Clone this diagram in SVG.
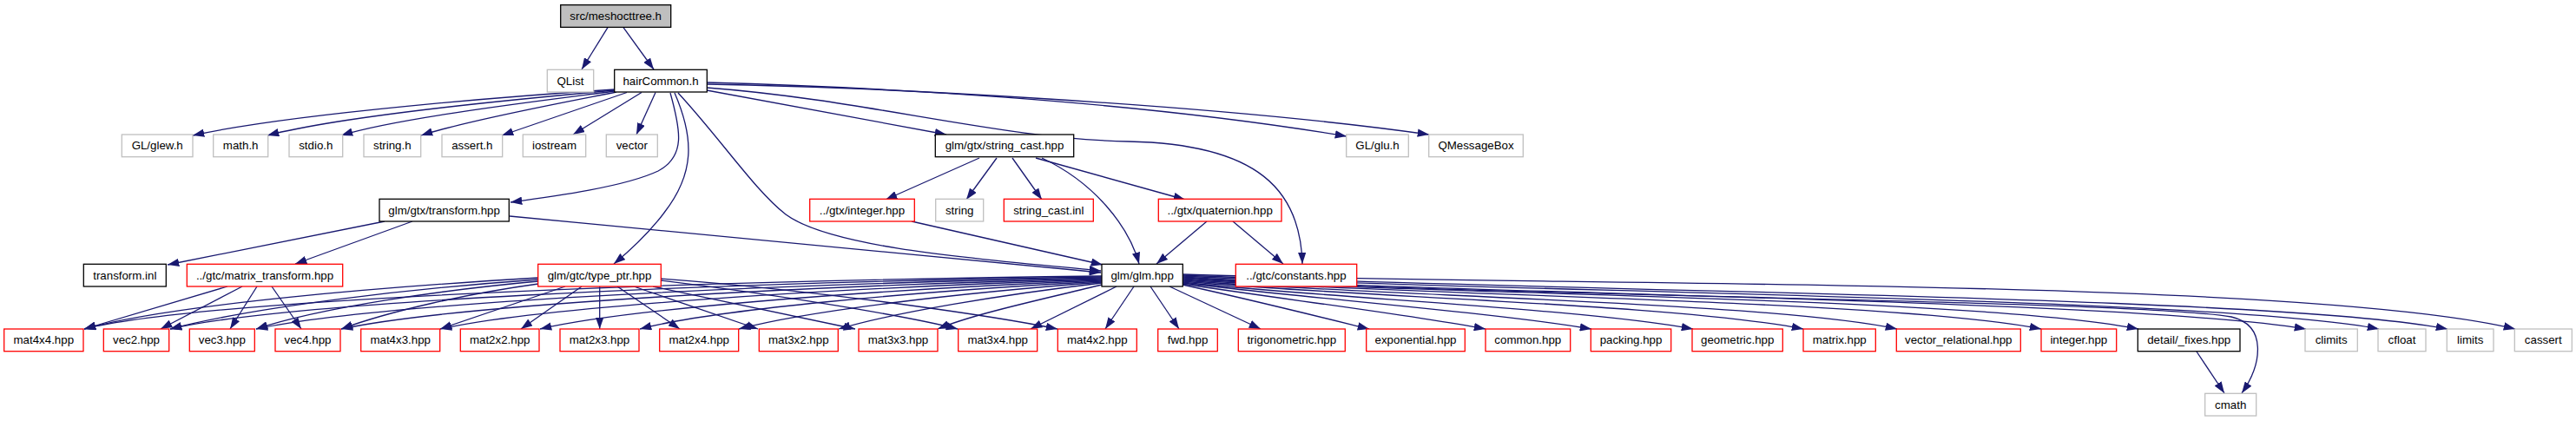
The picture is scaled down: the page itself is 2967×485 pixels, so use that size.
<svg xmlns="http://www.w3.org/2000/svg" width="2967" height="485" viewBox="0 0 2967 485">
<style>
.n rect{fill:#fff;stroke-width:1.3}
.g rect{stroke:#bfbfbf}
.b rect{stroke:#000}
.r rect{stroke:#ff0000}
.root rect{fill:#bfbfbf;stroke:#000}
text{font-family:"Liberation Sans",Arial,sans-serif;font-size:13.3px;text-anchor:middle;fill:#000}
#edges path{fill:none;stroke:#191970;stroke-width:1.3;marker-end:url(#a)}
</style>
<defs>
<marker id="a" markerUnits="userSpaceOnUse" viewBox="0 0 13.3 9.4" refX="13.3" refY="4.7" markerWidth="13.3" markerHeight="9.4" orient="auto">
<path d="M0,0 L13.3,4.7 L0,9.4 z" fill="#191970"/>
</marker>
</defs>
<rect width="2967" height="485" fill="#fff"/>
<g id="edges">
<path d="M700,31.7 L670,80"/>
<path d="M718,31.7 L753,80"/>
<path d="M708,103 C 600,110 340,130 222,156"/>
<path d="M708,104 C 620,112 400,132 308,156"/>
<path d="M708,105 C 640,114 460,135 393,156"/>
<path d="M710,106 C 660,116 540,138 485,156"/>
<path d="M722,106.5 L578,156"/>
<path d="M739,106.5 L660,155"/>
<path d="M755,106.5 L733,155"/>
<path d="M772,107 C 784,150 790,180 758,197 C 720,215 640,226 588,233"/>
<path d="M777,107 C 800,160 800,200 765,245 C 750,265 730,285 707,304"/>
<path d="M781,107 C 830,160 870,220 905,247 C 960,288 1150,300 1268,312"/>
<path d="M814,104 L1090,155"/>
<path d="M814,101 C 1000,115 1150,160 1300,163 C 1450,166 1498,220 1500,304"/>
<path d="M814,95 C 1000,100 1300,115 1551,157"/>
<path d="M814,97 C 1000,100 1400,120 1646,155"/>
<path d="M443,255 L193,305"/>
<path d="M475,255 L340,304"/>
<path d="M587,249 L1268,314"/>
<path d="M1128,182 L1020,230"/>
<path d="M1148,182 L1113,230"/>
<path d="M1166,182 L1200,230"/>
<path d="M1193,182 L1365,230"/>
<path d="M1200,182 C 1260,210 1300,260 1312,304"/>
<path d="M1050,255 L1270,305"/>
<path d="M1390,255 L1332,304"/>
<path d="M1420,255 L1478,304"/>
<path d="M262,330 L97,379"/>
<path d="M279,330 L185,379"/>
<path d="M296,330 L265,379"/>
<path d="M313,330 L347,379"/>
<path d="M620,320 C 450,330 200,350 97,379"/>
<path d="M620,322 C 480,332 300,352 196,379"/>
<path d="M620,324 C 510,334 370,354 295,379"/>
<path d="M620,327 C 540,338 450,358 393,379"/>
<path d="M651,330 L507,379"/>
<path d="M670,330 L600,379"/>
<path d="M690.7,330 L690.7,379"/>
<path d="M711,330 L783,379"/>
<path d="M730,330 L873,379"/>
<path d="M752,330 L985,379"/>
<path d="M761,323 C 900,340 1050,365 1103,379"/>
<path d="M761,321 C 950,335 1150,365 1218,379"/>
<path d="M1269,328 C 1200,345 1120,362 1080,379"/>
<path d="M1269,326 C 1150,340 1030,360 966,379"/>
<path d="M1269,325 C 1100,338 930,358 851,379"/>
<path d="M1269,324 C 1050,336 820,357 737,379"/>
<path d="M1269,323 C 1000,334 720,356 622,379"/>
<path d="M1269,322 C 950,332 620,354 507,379"/>
<path d="M1269,321 C 900,330 520,352 393,379"/>
<path d="M1269,320 C 850,328 430,350 295,379"/>
<path d="M1269,319 C 800,326 330,348 196,379"/>
<path d="M1269,318 C 750,324 230,346 97,379"/>
<path d="M1286,330 L1187,379"/>
<path d="M1306,330 L1273,379"/>
<path d="M1325,330 L1358,379"/>
<path d="M1347,330 L1452,379"/>
<path d="M1362,328 C 1440,345 1520,365 1577,379"/>
<path d="M1362,327 C 1480,345 1620,362 1711,379"/>
<path d="M1362,326 C 1500,343 1720,360 1833,379"/>
<path d="M1362,325 C 1520,343 1820,355 1950,379"/>
<path d="M1362,324 C 1550,342 1930,350 2077,379"/>
<path d="M1362,323 C 1580,341 2040,348 2185,379"/>
<path d="M1362,322 C 1600,340 2180,345 2351,379"/>
<path d="M1362,321 C 1620,339 2280,342 2463,379"/>
<path d="M1362,319 C 1650,338 2450,345 2656,379"/>
<path d="M1362,318 C 1700,336 2550,342 2740,379"/>
<path d="M1362,317 C 1750,335 2620,340 2819,379"/>
<path d="M1362,316 C 1800,330 2650,320 2897,379"/>
<path d="M1362,320 C 1700,342 2450,345 2570,365 C 2612,375 2605,420 2582,453"/>
<path d="M2530,405 L2562,453"/>
</g>
<g id="n_root" class="n root"><rect x="645.7" y="5.7" width="127" height="25.7"/><text x="709.2" y="23">src/meshocttree.h</text></g>
<g id="n_qlist" class="n g"><rect x="630.3" y="80.3" width="53.4" height="25.7"/><text x="657" y="97.6">QList</text></g>
<g id="n_haircommon" class="n b"><rect x="707.7" y="80.3" width="106.6" height="25.7"/><text x="761" y="97.6">hairCommon.h</text></g>
<g id="n_glew" class="n g"><rect x="140.3" y="155" width="81.7" height="25.7"/><text x="181.2" y="172.3">GL/glew.h</text></g>
<g id="n_math" class="n g"><rect x="245.7" y="155" width="63" height="25.7"/><text x="277.2" y="172.3">math.h</text></g>
<g id="n_stdio" class="n g"><rect x="333" y="155" width="61.7" height="25.7"/><text x="363.8" y="172.3">stdio.h</text></g>
<g id="n_string_h" class="n g"><rect x="419" y="155" width="65.7" height="25.7"/><text x="451.8" y="172.3">string.h</text></g>
<g id="n_assert" class="n g"><rect x="509" y="155" width="69.7" height="25.7"/><text x="543.8" y="172.3">assert.h</text></g>
<g id="n_iostream" class="n g"><rect x="602.3" y="155" width="72.4" height="25.7"/><text x="638.5" y="172.3">iostream</text></g>
<g id="n_vector" class="n g"><rect x="698.3" y="155" width="59" height="25.7"/><text x="727.8" y="172.3">vector</text></g>
<g id="n_string_cast" class="n b"><rect x="1077.3" y="155" width="159.4" height="25.7"/><text x="1157" y="172.3">glm/gtx/string_cast.hpp</text></g>
<g id="n_glu" class="n g"><rect x="1550.7" y="155" width="71.6" height="25.7"/><text x="1586.5" y="172.3">GL/glu.h</text></g>
<g id="n_qmessagebox" class="n g"><rect x="1645.7" y="155" width="108.6" height="25.7"/><text x="1700" y="172.3">QMessageBox</text></g>
<g id="n_transform" class="n b"><rect x="437" y="229.3" width="149.3" height="25.7"/><text x="511.6" y="246.6">glm/gtx/transform.hpp</text></g>
<g id="n_gtx_integer" class="n r"><rect x="932.7" y="229.3" width="120.6" height="25.7"/><text x="993" y="246.6">../gtx/integer.hpp</text></g>
<g id="n_string" class="n g"><rect x="1077.7" y="229.3" width="55" height="25.7"/><text x="1105.2" y="246.6">string</text></g>
<g id="n_string_cast_inl" class="n r"><rect x="1156.3" y="229.3" width="103" height="25.7"/><text x="1207.8" y="246.6">string_cast.inl</text></g>
<g id="n_quaternion" class="n r"><rect x="1334.3" y="229.3" width="141.7" height="25.7"/><text x="1405.2" y="246.6">../gtx/quaternion.hpp</text></g>
<g id="n_transform_inl" class="n b"><rect x="96.3" y="304.3" width="95" height="25.7"/><text x="143.8" y="321.6">transform.inl</text></g>
<g id="n_matrix_transform" class="n r"><rect x="215.3" y="304.3" width="179.4" height="25.7"/><text x="305" y="321.6">../gtc/matrix_transform.hpp</text></g>
<g id="n_type_ptr" class="n r"><rect x="619.7" y="304.3" width="141.6" height="25.7"/><text x="690.5" y="321.6">glm/gtc/type_ptr.hpp</text></g>
<g id="n_glm" class="n b"><rect x="1269" y="304.3" width="93.3" height="25.7"/><text x="1315.7" y="321.6">glm/glm.hpp</text></g>
<g id="n_constants" class="n r"><rect x="1423.3" y="304.3" width="139.4" height="25.7"/><text x="1493" y="321.6">../gtc/constants.hpp</text></g>
<g id="n_mat4x4" class="n r"><rect x="4.7" y="379" width="91.3" height="25.7"/><text x="50.3" y="396.3">mat4x4.hpp</text></g>
<g id="n_vec2" class="n r"><rect x="119.3" y="379" width="75.4" height="25.7"/><text x="157" y="396.3">vec2.hpp</text></g>
<g id="n_vec3" class="n r"><rect x="218.3" y="379" width="75" height="25.7"/><text x="255.8" y="396.3">vec3.hpp</text></g>
<g id="n_vec4" class="n r"><rect x="317" y="379" width="75" height="25.7"/><text x="354.5" y="396.3">vec4.hpp</text></g>
<g id="n_mat4x3" class="n r"><rect x="415.7" y="379" width="91" height="25.7"/><text x="461.2" y="396.3">mat4x3.hpp</text></g>
<g id="n_mat2x2" class="n r"><rect x="530.3" y="379" width="90.7" height="25.7"/><text x="575.7" y="396.3">mat2x2.hpp</text></g>
<g id="n_mat2x3" class="n r"><rect x="645" y="379" width="91" height="25.7"/><text x="690.5" y="396.3">mat2x3.hpp</text></g>
<g id="n_mat2x4" class="n r"><rect x="759.7" y="379" width="91" height="25.7"/><text x="805.2" y="396.3">mat2x4.hpp</text></g>
<g id="n_mat3x2" class="n r"><rect x="874.3" y="379" width="91" height="25.7"/><text x="919.8" y="396.3">mat3x2.hpp</text></g>
<g id="n_mat3x3" class="n r"><rect x="989" y="379" width="91" height="25.7"/><text x="1034.5" y="396.3">mat3x3.hpp</text></g>
<g id="n_mat3x4" class="n r"><rect x="1103.7" y="379" width="91" height="25.7"/><text x="1149.2" y="396.3">mat3x4.hpp</text></g>
<g id="n_mat4x2" class="n r"><rect x="1218.3" y="379" width="91" height="25.7"/><text x="1263.8" y="396.3">mat4x2.hpp</text></g>
<g id="n_fwd" class="n r"><rect x="1333.7" y="379" width="68.6" height="25.7"/><text x="1368" y="396.3">fwd.hpp</text></g>
<g id="n_trigonometric" class="n r"><rect x="1426.3" y="379" width="123" height="25.7"/><text x="1487.8" y="396.3">trigonometric.hpp</text></g>
<g id="n_exponential" class="n r"><rect x="1573.7" y="379" width="113.6" height="25.7"/><text x="1630.5" y="396.3">exponential.hpp</text></g>
<g id="n_common" class="n r"><rect x="1711" y="379" width="97.7" height="25.7"/><text x="1759.8" y="396.3">common.hpp</text></g>
<g id="n_packing" class="n r"><rect x="1832.3" y="379" width="92.4" height="25.7"/><text x="1878.5" y="396.3">packing.hpp</text></g>
<g id="n_geometric" class="n r"><rect x="1949" y="379" width="104.3" height="25.7"/><text x="2001.2" y="396.3">geometric.hpp</text></g>
<g id="n_matrix" class="n r"><rect x="2077" y="379" width="83.3" height="25.7"/><text x="2118.7" y="396.3">matrix.hpp</text></g>
<g id="n_vector_relational" class="n r"><rect x="2184.3" y="379" width="143" height="25.7"/><text x="2255.8" y="396.3">vector_relational.hpp</text></g>
<g id="n_integer" class="n r"><rect x="2351" y="379" width="86.7" height="25.7"/><text x="2394.3" y="396.3">integer.hpp</text></g>
<g id="n_fixes" class="n b"><rect x="2462.3" y="379" width="117.7" height="25.7"/><text x="2521.2" y="396.3">detail/_fixes.hpp</text></g>
<g id="n_climits" class="n g"><rect x="2655" y="379" width="60.3" height="25.7"/><text x="2685.2" y="396.3">climits</text></g>
<g id="n_cfloat" class="n g"><rect x="2739" y="379" width="55" height="25.7"/><text x="2766.5" y="396.3">cfloat</text></g>
<g id="n_limits" class="n g"><rect x="2818.3" y="379" width="53.7" height="25.7"/><text x="2845.2" y="396.3">limits</text></g>
<g id="n_cassert" class="n g"><rect x="2896.3" y="379" width="66" height="25.7"/><text x="2929.3" y="396.3">cassert</text></g>
<g id="n_cmath" class="n g"><rect x="2539.7" y="453.3" width="59" height="25.7"/><text x="2569.2" y="470.6">cmath</text></g>
</svg>
